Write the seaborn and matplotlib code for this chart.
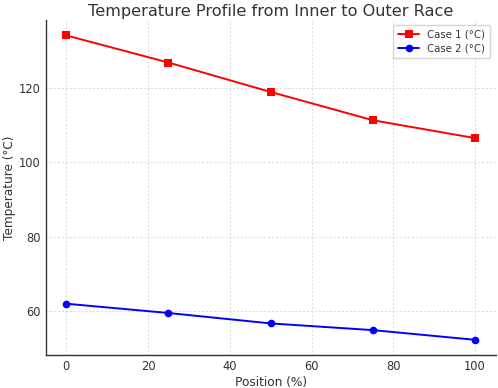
import matplotlib
matplotlib.use("Agg")
import matplotlib.pyplot as plt
import seaborn as sns
import pandas as pd

positions = [0, 25, 50, 75, 100]
case1 = [134.1, 126.8, 118.9, 111.3, 106.5]
case2 = [62.0, 59.5, 56.7, 54.9, 52.3]
labels = ["Case 1 (°C)", "Case 2 (°C)"]

sns.set_style("white")
plt.rcParams['font.family'] = ['DejaVu Sans']

fig = plt.figure(figsize=(4.98, 3.88), dpi=100)
ax = fig.add_axes([0.092, 0.085, 0.903, 0.863])

df1 = pd.DataFrame({"x": positions, "y": case1})
df2 = pd.DataFrame({"x": positions, "y": case2})
sns.lineplot(data=df1, x="x", y="y", ax=ax, color="red", marker="s",
             markersize=5.5, markeredgewidth=0, linewidth=1.4, label=labels[0])
sns.lineplot(data=df2, x="x", y="y", ax=ax, color="blue", marker="o",
             markersize=5.5, markeredgewidth=0, linewidth=1.4, label=labels[1])

ax.set_title("Temperature Profile from Inner to Outer Race", fontsize=11.6, color="#333333", pad=3)
ax.set_xlabel("Position (%)", fontsize=8.7, color="#333333", labelpad=2)
ax.set_ylabel("Temperature (°C)", fontsize=8.7, color="#333333", labelpad=2)
ax.set_xticks([0, 20, 40, 60, 80, 100])
ax.set_yticks([60, 80, 100, 120])
ax.tick_params(direction="in", length=3, pad=3.5, labelsize=8.3, colors="#333333")
ax.grid(True, linestyle=(0, (2, 2)), color="#d8d8d8", linewidth=0.7)
for s in ["top", "right"]:
    ax.spines[s].set_visible(False)
for s in ["left", "bottom"]:
    ax.spines[s].set_color("#333333")
    ax.spines[s].set_linewidth(1.0)
leg = ax.legend(loc="upper right", fontsize=7.3, frameon=True, borderpad=0.45,
                handlelength=2.1, labelspacing=0.4, bbox_to_anchor=(0.999, 1.0))
leg.get_frame().set_edgecolor("#cccccc")
for t in leg.get_texts():
    t.set_color("#333333")

fig.savefig("out.png", dpi=100)
